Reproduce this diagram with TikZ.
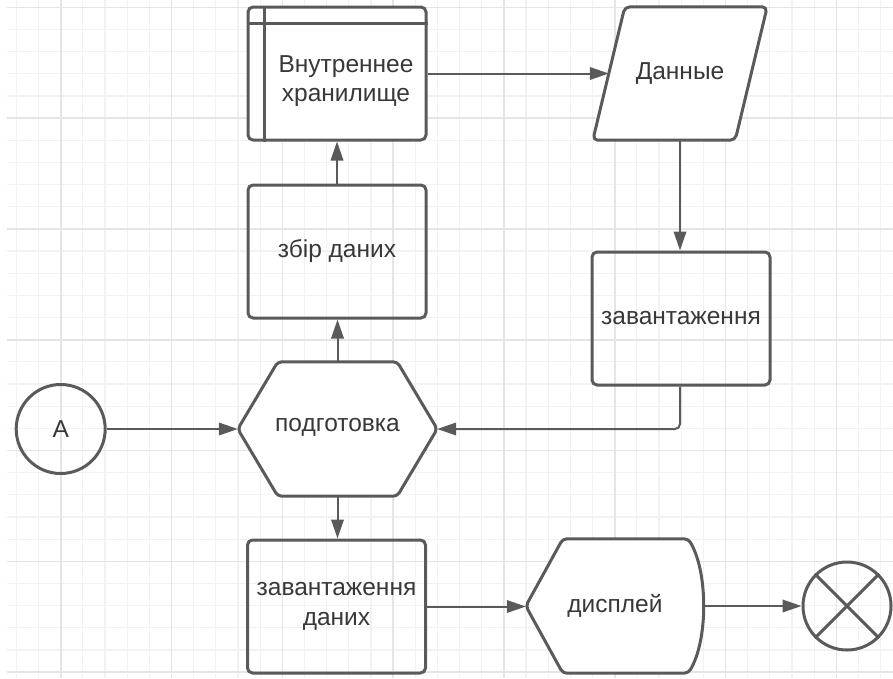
\documentclass[tikz,border=0pt]{standalone}
\usepackage{fontspec}
\setmainfont{Liberation Sans}
\usetikzlibrary{arrows.meta,calc}
\definecolor{gridminor}{HTML}{F2F2F2}
\definecolor{gridmajor}{HTML}{E5E5E5}
\definecolor{stroke}{HTML}{5A5A5A}
\definecolor{ink}{HTML}{383838}
\tikzset{
  shapeline/.style={draw=stroke, line width=3pt, line join=round},
  box/.style={shapeline, rectangle, rounded corners=5pt, minimum width=178pt, minimum height=133pt, inner sep=0pt},
  area/.style={draw=none, rectangle, inner sep=0pt},
  label/.style={text=ink, font=\fontsize{24.5}{29.5}\selectfont, align=center},
  conn/.style={draw=stroke, line width=2pt, -{Triangle[length=19pt,width=12.5pt]}},
  gridmin/.style={draw=gridminor, line width=1.2pt},
  gridmaj/.style={draw=gridmajor, line width=1.6pt},
}
\begin{document}
\begin{tikzpicture}[x=1pt,y=-1pt]
\useasboundingbox (0,0) rectangle (893,678);
% background grid
\foreach \i in {-2,...,37}
  \draw[gridmin] ({60.7+\i*22.16},0) -- ({60.7+\i*22.16},678);
\foreach \j in {0,...,30}
  \draw[gridmin] (6.7,{7.3+\j*22.16}) -- (893,{7.3+\j*22.16});
\foreach \i in {0,...,7}
  \draw[gridmaj] ({60.7+\i*110.8},0) -- ({60.7+\i*110.8},678);
\foreach \j in {0,...,6}
  \draw[gridmaj] (6.7,{7.3+\j*110.8}) -- (893,{7.3+\j*110.8});

% internal storage
\node[box, fill=white] (storage) at (337,73.5) {};
\draw[shapeline] ($(storage.north west)+(18,0)$) -- ($(storage.south west)+(18,0)$);
\draw[shapeline] ($(storage.north west)+(0,18)$) -- ($(storage.north east)+(0,18)$);
\node[label] (storagetext) at (346,81) {Внутреннее\\хранилище};

% data (parallelogram)
\node[area, minimum width=142pt, minimum height=133pt] (data) at (680,73.5) {};
\draw[shapeline, fill=white, rounded corners=5pt]
  ($(data.north west)+(16,0)$) -- ($(data.north east)+(16,0)$)
  -- ($(data.south east)+(-16,0)$) -- ($(data.south west)+(-16,0)$) -- cycle;
\node[label] (datatext) at (data.center) {Данные};

% process boxes
\node[box, label] (collect) at (337,251.5) {збір даних};
\node[box, label] (load) at (681,318.5) {завантаження};
\node[box, label] (loaddata) at (336.5,606.5) {завантаження\\даних};

% preparation (hexagon)
\node[area, minimum width=199pt, minimum height=134pt] (prep) at (337.5,429) {};
\draw[shapeline, fill=white, rounded corners=4pt]
  (prep.west) -- ($(prep.north west)+(40,0)$) -- ($(prep.north east)+(-40,0)$)
  -- (prep.east) -- ($(prep.south east)+(-40,0)$) -- ($(prep.south west)+(40,0)$) -- cycle;
\node[label] (preptext) at (337.5,427) {подготовка};

% display
\node[area, minimum width=177pt, minimum height=134pt] (disp) at (614.5,606) {};
\draw[shapeline, fill=white, rounded corners=4pt]
  (disp.west) -- ($(disp.north west)+(37,0)$) -- ($(disp.north east)+(-15,0)$)
  .. controls ($(disp.north east)+(5,33)$) and ($(disp.south east)+(5,-33)$) .. ($(disp.south east)+(-15,0)$)
  -- ($(disp.south west)+(37,0)$) -- cycle;
\node[label] (disptext) at (615,606) {дисплей};

% connector A and terminal
\node[shapeline, circle, minimum size=89pt, inner sep=0pt, label] (A) at (60.7,429) {А};
\node[shapeline, circle, minimum size=88pt, inner sep=0pt] (stop) at (847,606) {};
\draw[shapeline] (stop.north west) -- (stop.south east);
\draw[shapeline] (stop.north east) -- (stop.south west);

% flow
\draw[conn] (A) -- (prep.west);
\draw[conn] (prep.north) -- (prep.north |- collect.south);
\draw[conn] (collect.north) -- (collect.north |- storage.south);
\draw[conn] (storage.east) -- (data.west);
\draw[conn] (data.south) -- (data.south |- load.north);
\draw[conn, rounded corners=5pt] (data.south |- load.south) |- (prep.east);
\draw[conn] (prep.south) -- (prep.south |- loaddata.north);
\draw[conn] (loaddata.east) -- (loaddata.east -| disp.west);
\draw[conn] (disp.east) -- (stop.west);
\end{tikzpicture}
\end{document}
